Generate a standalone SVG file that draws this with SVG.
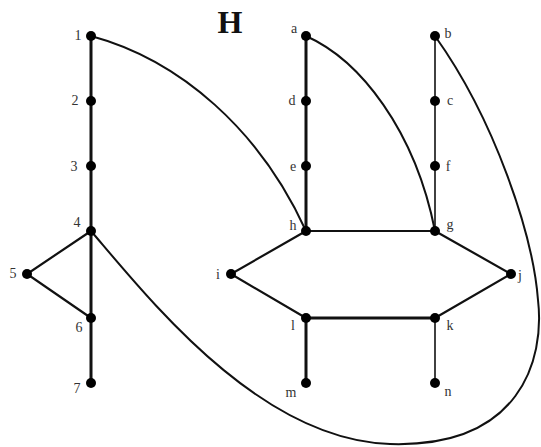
<svg xmlns="http://www.w3.org/2000/svg" width="541" height="447" viewBox="0 0 541 447">
<style>
.e{stroke:#111;fill:none;stroke-width:2.2;stroke-linecap:round}
.t{stroke-width:3}
.n{stroke-width:1.6}
.c{stroke:#111;fill:none;stroke-width:2}
.d{fill:#000}
.l{font-family:"Liberation Serif",serif;font-size:14px;fill:#333}
.ttl{font-family:"Liberation Serif",serif;font-size:32px;font-weight:bold;fill:#111}
</style>
<rect width="541" height="447" fill="#fff"/>
<text class="ttl" x="230" y="33" text-anchor="middle">H</text>
<g id="connectors">
<path class="e t" d="M91,36V383"/>
<path class="e" d="M91,231L27,274L91,318"/>
<path class="e t" d="M306,36V231"/>
<path class="e n" d="M435,36V231"/>
<path class="e" d="M306,231H435"/>
<path class="e" d="M306,231L231,274L306,318"/>
<path class="e" d="M435,231L511,274L435,318"/>
<path class="e t" d="M306,318H435"/>
<path class="e t" d="M306,318V383"/>
<path class="e n" d="M435,318V383"/>
<path class="c" d="M91,36C180,60 260,130 306,231"/>
<path class="c" d="M306,36C360,60 415,130 435,231"/>
<path class="c" d="M91,231C150,300 260,440 390,444C520,448 545,360 538,300C533,235 495,120 435,36"/>
</g>
<g id="n1"><circle class="d" cx="91" cy="36" r="5"/><text class="l" x="78" y="40" text-anchor="middle">1</text></g>
<g id="n2"><circle class="d" cx="91" cy="101" r="5"/><text class="l" x="75" y="105" text-anchor="middle">2</text></g>
<g id="n3"><circle class="d" cx="91" cy="166" r="5"/><text class="l" x="74" y="171" text-anchor="middle">3</text></g>
<g id="n4"><circle class="d" cx="91" cy="231" r="5"/><text class="l" x="77" y="227" text-anchor="middle">4</text></g>
<g id="n5"><circle class="d" cx="27" cy="274" r="5"/><text class="l" x="13" y="278" text-anchor="middle">5</text></g>
<g id="n6"><circle class="d" cx="91" cy="318" r="5"/><text class="l" x="79" y="332" text-anchor="middle">6</text></g>
<g id="n7"><circle class="d" cx="91" cy="383" r="5"/><text class="l" x="77" y="393" text-anchor="middle">7</text></g>
<g id="na"><circle class="d" cx="306" cy="36" r="5"/><text class="l" x="294" y="33" text-anchor="middle">a</text></g>
<g id="nd"><circle class="d" cx="306" cy="101" r="5"/><text class="l" x="292" y="105" text-anchor="middle">d</text></g>
<g id="ne"><circle class="d" cx="306" cy="166" r="5"/><text class="l" x="293" y="171" text-anchor="middle">e</text></g>
<g id="nh"><circle class="d" cx="306" cy="231" r="5"/><text class="l" x="293" y="230" text-anchor="middle">h</text></g>
<g id="nb"><circle class="d" cx="435" cy="36" r="5"/><text class="l" x="448" y="38" text-anchor="middle">b</text></g>
<g id="nc"><circle class="d" cx="435" cy="101" r="5"/><text class="l" x="450" y="105" text-anchor="middle">c</text></g>
<g id="nf"><circle class="d" cx="435" cy="166" r="5"/><text class="l" x="448" y="171" text-anchor="middle">f</text></g>
<g id="ng"><circle class="d" cx="435" cy="231" r="5"/><text class="l" x="450" y="229" text-anchor="middle">g</text></g>
<g id="ni"><circle class="d" cx="231" cy="274" r="5"/><text class="l" x="218" y="279" text-anchor="middle">i</text></g>
<g id="nj"><circle class="d" cx="511" cy="274" r="5"/><text class="l" x="520" y="280" text-anchor="middle">j</text></g>
<g id="nl"><circle class="d" cx="306" cy="318" r="5"/><text class="l" x="293" y="330" text-anchor="middle">l</text></g>
<g id="nk"><circle class="d" cx="435" cy="318" r="5"/><text class="l" x="450" y="330" text-anchor="middle">k</text></g>
<g id="nm"><circle class="d" cx="306" cy="383" r="5"/><text class="l" x="291" y="397" text-anchor="middle">m</text></g>
<g id="nn"><circle class="d" cx="435" cy="383" r="5"/><text class="l" x="448" y="396" text-anchor="middle">n</text></g>
</svg>
